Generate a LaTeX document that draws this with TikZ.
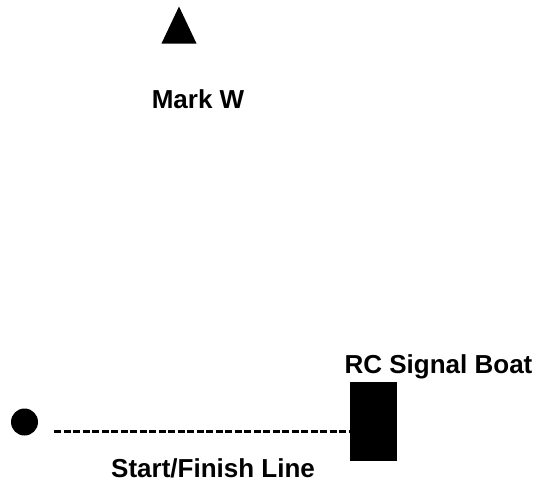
\documentclass[tikz,border=0pt]{standalone}
\usepackage{fontspec}
\setmainfont{Liberation Sans}
\usetikzlibrary{
  positioning,
  shapes.geometric
}

\begin{document}
\begin{tikzpicture}[x=1pt,y=1pt]
  \tikzset{
    lbl/.style={font=\fontsize{26}{30}\selectfont\bfseries,inner sep=0pt},
    startline/.style={line width=3.7pt,dash pattern=on 7pt off 2.5pt}
  }
  \useasboundingbox (0,0) rectangle (535,483);
  \node (markW) at (179,477) [fill,isosceles triangle,shape border rotate=90,
    isosceles triangle stretches,minimum height=37pt,minimum width=35pt,
    inner sep=0pt,anchor=apex] {};
  \node (markWlbl) at (198,374) [lbl,anchor=base] {Mark W};
  \node (boat) at (373.5,61.5) [fill,rectangle,minimum width=47pt,minimum height=79pt,inner sep=0pt] {};
  \node (boatlbl) at (438.5,110) [lbl,anchor=base] {RC Signal Boat};
  \node (pin) at (24.5,61) [fill,circle,minimum size=27pt,inner sep=0pt] {};
  \coordinate (lineA) at (54,51.5);
  \draw[startline] (lineA) -- (lineA -| boat.west);
  \node (linelbl) at (111,6) [lbl,anchor=base west] {Start/Finish Line};
\end{tikzpicture}
\end{document}
